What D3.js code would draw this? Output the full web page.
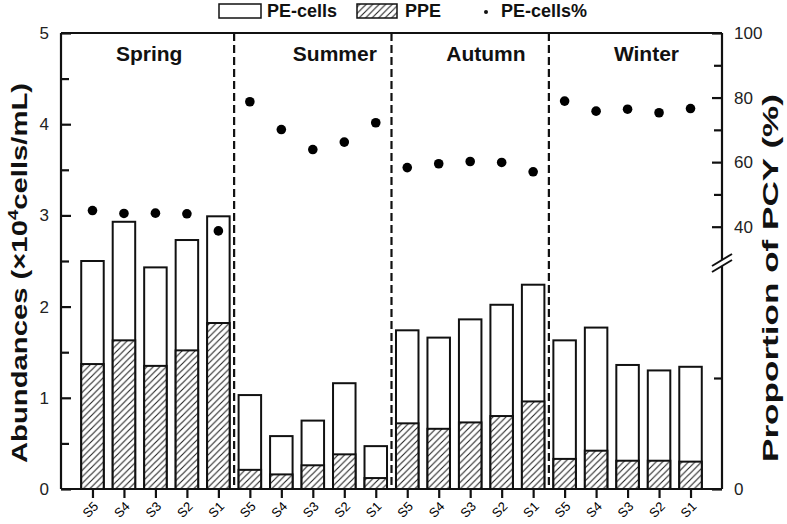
<!DOCTYPE html>
<html>
<head>
<meta charset="utf-8">
<script src="https://cdn.jsdelivr.net/npm/d3@7/dist/d3.min.js"></script>
<style>
  html, body { margin: 0; padding: 0; background: #fff; }
  svg { display: block; font-family: Arial, "Liberation Sans", sans-serif; }
</style>
</head>
<body>
<svg id="chart" width="787" height="524"></svg>
<script>
// ---------------- data ----------------
const seasons = ["Spring", "Summer", "Autumn", "Winter"];
const sites = ["S5", "S4", "S3", "S2", "S1"];
// PE-cells abundance (x10^4 cells/mL), per season, per site S5..S1
const peCells = [
  [2.50, 2.93, 2.43, 2.73, 2.99],
  [1.03, 0.58, 0.75, 1.16, 0.47],
  [1.74, 1.66, 1.86, 2.02, 2.24],
  [1.63, 1.77, 1.36, 1.30, 1.34]
];
// PPE abundance (x10^4 cells/mL)
const ppe = [
  [1.37, 1.63, 1.35, 1.52, 1.82],
  [0.21, 0.16, 0.26, 0.38, 0.12],
  [0.72, 0.66, 0.73, 0.80, 0.96],
  [0.33, 0.42, 0.31, 0.31, 0.30]
];
// PE-cells % of PCY
const peCellsPct = [
  [45.0, 44.1, 44.2, 44.0, 38.7],
  [78.7, 70.1, 63.9, 66.2, 72.2],
  [58.3, 59.5, 60.2, 59.9, 57.0],
  [78.9, 75.8, 76.4, 75.3, 76.6]
];
const leftTicks = [0, 1, 2, 3, 4, 5];
const leftMinorTicks = [0.5, 1.5, 2.5, 3.5, 4.5];
const rightUpperTicks = [40, 60, 80, 100];
const rightUpperMinor = [50, 70, 90];
const rightLowerTicks = [0];
const rightLowerMinor = [20];

// ---------------- layout ----------------
const L = 61, R = 722, T = 33, B = 489;
const svg = d3.select("#chart");
const font = 'Arial, "Liberation Sans", sans-serif';

// flatten into records
const records = [];
seasons.forEach((s, si) => {
  sites.forEach((site, k) => {
    records.push({
      idx: si * sites.length + k + 1,
      season: s, site: site,
      total: peCells[si][k], ppe: ppe[si][k], pct: peCellsPct[si][k]
    });
  });
});
const n = records.length;

const x = d3.scaleLinear().domain([0, n + 1]).range([L, R]);
const y = d3.scaleLinear().domain([0, 5]).range([B, T]);
const yPctUpper = d3.scaleLinear().domain([40, 100]).range([226.7, T]);
const yPctLower = d3.scaleLinear().domain([0, 20]).range([B, 378]);
const barW = 22.5;

// hatch pattern
const defs = svg.append("defs");
const pat = defs.append("pattern")
  .attr("id", "hatch").attr("patternUnits", "userSpaceOnUse")
  .attr("width", 6.5).attr("height", 6.5);
pat.append("rect").attr("width", 6.5).attr("height", 6.5).attr("fill", "#fff");
pat.append("path")
  .attr("d", "M0,6.5 L6.5,0 M-1.625,1.625 L1.625,-1.625 M4.875,8.125 L8.125,4.875")
  .attr("stroke", "#222").attr("stroke-width", 1.1);

// bars: PE-cells (white) then PPE (hatched)
svg.append("g").selectAll("rect").data(records).join("rect")
  .attr("x", d => x(d.idx) - barW / 2)
  .attr("y", d => y(d.total))
  .attr("width", barW)
  .attr("height", d => y(0) - y(d.total))
  .attr("fill", "#fff").attr("stroke", "#111").attr("stroke-width", 2);

svg.append("g").selectAll("rect").data(records).join("rect")
  .attr("x", d => x(d.idx) - barW / 2)
  .attr("y", d => y(d.ppe))
  .attr("width", barW)
  .attr("height", d => y(0) - y(d.ppe))
  .attr("fill", "url(#hatch)").attr("stroke", "#111").attr("stroke-width", 2);

// season separators
const seps = d3.range(1, seasons.length).map(i => i * sites.length + 0.5);
svg.append("g").selectAll("line").data(seps).join("line")
  .attr("x1", d => x(d)).attr("x2", d => x(d))
  .attr("y1", T).attr("y2", B)
  .attr("stroke", "#111").attr("stroke-width", 2.2)
  .attr("stroke-dasharray", "8,4");

// dots
svg.append("g").selectAll("circle").data(records).join("circle")
  .attr("cx", d => x(d.idx))
  .attr("cy", d => yPctUpper(d.pct))
  .attr("r", 4.8).attr("fill", "#000");

// season labels (slight offsets in data units, as in the original)
const seasonLabelAt = [2.8, 8.7, 13.5, 18.6];
svg.append("g").selectAll("text").data(seasons).join("text")
  .attr("x", (d, i) => x(seasonLabelAt[i]))
  .attr("y", 61)
  .attr("text-anchor", "middle")
  .attr("font-size", 21).attr("font-weight", "bold").attr("fill", "#111")
  .text(d => d);

// frame
const ax = svg.append("g").attr("stroke", "#111").attr("stroke-width", 2.2).attr("fill", "none");
ax.append("line").attr("x1", L).attr("x2", R).attr("y1", T).attr("y2", T);
ax.append("line").attr("x1", L).attr("x2", R).attr("y1", B).attr("y2", B);
ax.append("line").attr("x1", L).attr("x2", L).attr("y1", T).attr("y2", B);
ax.append("line").attr("x1", R).attr("x2", R).attr("y1", T).attr("y2", B);

// left axis (inward ticks)
const leftAxis = d3.axisLeft(y).tickValues(leftTicks).tickSizeInner(-10).tickSizeOuter(0).tickPadding(12)
  .tickFormat(d3.format("d"));
const gl = svg.append("g").attr("transform", `translate(${L},0)`).call(leftAxis);
gl.select(".domain").remove();
gl.selectAll(".tick line").attr("stroke", "#111").attr("stroke-width", 2.2);
gl.selectAll(".tick text").attr("font-size", 17).attr("font-family", font).attr("fill", "#222");
const glm = svg.append("g").attr("transform", `translate(${L},0)`)
  .call(d3.axisLeft(y).tickValues(leftMinorTicks).tickSize(-8).tickFormat(""));
glm.select(".domain").remove();
glm.selectAll(".tick line").attr("stroke", "#111").attr("stroke-width", 2.2);

// bottom axis (outward ticks, rotated labels)
const bottomAxis = d3.axisBottom(x).tickValues(records.map(d => d.idx))
  .tickSize(9).tickFormat(v => records[v - 1].site);
const gb = svg.append("g").attr("transform", `translate(0,${B})`).call(bottomAxis);
gb.select(".domain").remove();
gb.selectAll(".tick line").attr("stroke", "#111").attr("stroke-width", 2.2);
gb.selectAll(".tick text")
  .attr("font-size", 13).attr("font-family", font).attr("fill", "#000")
  .attr("text-anchor", "end")
  .attr("dy", "0.35em")
  .attr("transform", "translate(3,15) rotate(-45)")
  .attr("y", 0).attr("x", 0);

// right axis (inward ticks), broken
function rightAxisPart(scale, vals, minor) {
  const g = svg.append("g").attr("transform", `translate(${R},0)`)
    .call(d3.axisRight(scale).tickValues(vals).tickSizeInner(-10).tickSizeOuter(0).tickPadding(12)
      .tickFormat(d3.format("d")));
  g.select(".domain").remove();
  g.selectAll(".tick line").attr("stroke", "#111").attr("stroke-width", 2.2);
  g.selectAll(".tick text").attr("font-size", 17).attr("font-family", font).attr("fill", "#222");
  const gm = svg.append("g").attr("transform", `translate(${R},0)`)
    .call(d3.axisRight(scale).tickValues(minor).tickSize(-8).tickFormat(""));
  gm.select(".domain").remove();
  gm.selectAll(".tick line").attr("stroke", "#111").attr("stroke-width", 2.2);
}
rightAxisPart(yPctUpper, rightUpperTicks, rightUpperMinor);
rightAxisPart(yPctLower, rightLowerTicks, rightLowerMinor);

// axis break marker
const bx = R, by = 263;
svg.append("polygon")
  .attr("points", `${bx-10},${by+9} ${bx+10},${by-3} ${bx+10},${by-9} ${bx-10},${by+3}`)
  .attr("fill", "#fff");
svg.append("line").attr("x1", bx - 10).attr("y1", by + 9).attr("x2", bx + 10).attr("y2", by - 3)
  .attr("stroke", "#111").attr("stroke-width", 2);
svg.append("line").attr("x1", bx - 10).attr("y1", by + 3).attr("x2", bx + 10).attr("y2", by - 9)
  .attr("stroke", "#111").attr("stroke-width", 2);

// axis titles
const lt = svg.append("text")
  .attr("transform", `translate(27,273) rotate(-90)`)
  .attr("text-anchor", "middle")
  .attr("textLength", 380).attr("lengthAdjust", "spacingAndGlyphs")
  .attr("font-size", 22).attr("font-weight", "bold").attr("fill", "#111");
lt.append("tspan").text("Abundances (×10");
lt.append("tspan").attr("font-size", 14).attr("dy", -9).text("4");
lt.append("tspan").attr("dy", 9).text("cells/mL)");

svg.append("text")
  .attr("transform", `translate(778,278) rotate(-90)`)
  .attr("text-anchor", "middle")
  .attr("textLength", 368).attr("lengthAdjust", "spacingAndGlyphs")
  .attr("font-size", 22).attr("font-weight", "bold").attr("fill", "#111")
  .text("Proportion of PCY (%)");

// legend
const lg = svg.append("g");
lg.append("rect").attr("x", 219).attr("y", 4).attr("width", 42).attr("height", 14)
  .attr("fill", "#fff").attr("stroke", "#111").attr("stroke-width", 1.5);
lg.append("text").attr("x", 267).attr("y", 17).attr("font-size", 18).attr("font-weight", "bold")
  .attr("fill", "#111").text("PE-cells");
lg.append("rect").attr("x", 357).attr("y", 4).attr("width", 40).attr("height", 14)
  .attr("fill", "url(#hatch)").attr("stroke", "#111").attr("stroke-width", 1.5);
lg.append("text").attr("x", 405).attr("y", 17).attr("font-size", 18).attr("font-weight", "bold")
  .attr("fill", "#111").text("PPE");
lg.append("circle").attr("cx", 486).attr("cy", 12).attr("r", 2).attr("fill", "#111");
lg.append("text").attr("x", 501).attr("y", 17).attr("font-size", 18).attr("font-weight", "bold")
  .attr("fill", "#111").text("PE-cells%");
</script>
</body>
</html>
